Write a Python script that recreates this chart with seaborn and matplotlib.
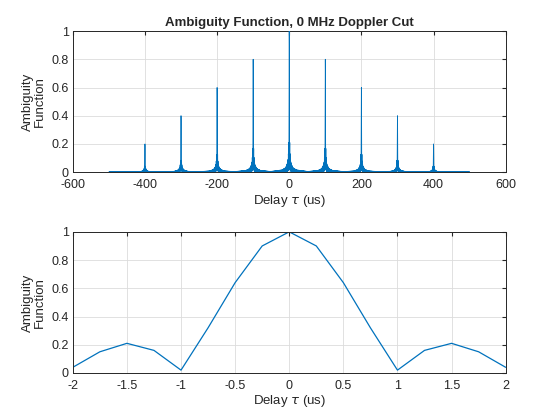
"""
Ambiguity function, zero-Doppler cut - pulse train
"""
import numpy as np
import pandas as pd
import matplotlib
matplotlib.use('Agg')
import matplotlib.pyplot as plt
import seaborn as sns

# peaks of the pulse train (top panel)
pulse_delay = [-400, -300, -200, -100, 0, 100, 200, 300, 400]
pulse_peak = [0.2, 0.4, 0.6, 0.8, 1.0, 0.8, 0.6, 0.4, 0.2]

# zoom around 0 us (bottom panel)
zoom_delay = [-2, -1.75, -1.5, -1.25, -1, -0.75, -0.5, -0.25, 0,
              0.25, 0.5, 0.75, 1, 1.25, 1.5, 1.75, 2]
zoom_amp = [0.04, 0.15, 0.21, 0.16, 0.02, 0.32, 0.64, 0.90, 1.0,
            0.90, 0.64, 0.32, 0.02, 0.16, 0.21, 0.15, 0.04]

skirt_offset = [2, 2.5, 3.5, 5, 10, 20, 50, 100]
skirt_env = [0.16, 0.13, 0.09, 0.064, 0.032, 0.016, 0.006, 0.003]

sns.set_style("white")
plt.rcParams['font.family'] = ['Liberation Sans', 'DejaVu Sans']
plt.rcParams['mathtext.fontset'] = 'dejavusans'
plt.rcParams['axes.unicode_minus'] = False

blue = '#0072BD'
step = 0.25

# build the sampled cut of the top panel from the read shapes
tau = np.arange(-500, 500 + step / 2, step)
amp = np.zeros_like(tau)
cycle = np.array(zoom_amp[12:16]) / max(zoom_amp[12:16])
for d, p in zip(pulse_delay, pulse_peak):
    off = tau - d
    a = np.abs(off)
    near = a <= 2
    shape = np.where(near, np.interp(off, zoom_delay, zoom_amp), 0.0)
    idx = np.round(a / step).astype(int) % 4
    far = np.interp(a, skirt_offset, skirt_env) * cycle[idx]
    shape = np.where(near, shape, far) * p
    amp = np.maximum(amp, shape)

top_df = pd.DataFrame({'delay': tau, 'amp': amp})
zoom_df = pd.DataFrame({'delay': zoom_delay, 'amp': zoom_amp})

fig = plt.figure(figsize=(5.6, 4.2), dpi=100)
ax1 = fig.add_axes([0.130, 0.590, 0.773, 0.336])
ax2 = fig.add_axes([0.130, 0.112, 0.773, 0.336])

sns.lineplot(data=top_df, x='delay', y='amp', ax=ax1, color=blue,
             linewidth=0.6, estimator=None, sort=False, zorder=3)
sns.lineplot(data=zoom_df, x='delay', y='amp', ax=ax2, color=blue,
             linewidth=0.9, estimator=None, sort=False)

ax1.set_xlim(-600, 600)
ax1.set_xticks(np.arange(-600, 601, 200))
ax2.set_xlim(-2, 2)
ax2.set_xticks([-2, -1.5, -1, -0.5, 0, 0.5, 1, 1.5, 2])
ax2.set_xticklabels(['-2', '-1.5', '-1', '-0.5', '0', '0.5', '1', '1.5', '2'])

for ax in (ax1, ax2):
    ax.set_ylim(0, 1)
    ax.set_yticks([0, 0.2, 0.4, 0.6, 0.8, 1])
    ax.set_yticklabels(['0', '0.2', '0.4', '0.6', '0.8', '1'])
    ax.grid(True, color='#dcdcdc', linewidth=0.6)
    ax.set_axisbelow(True)
    ax.tick_params(direction='in', length=3, labelsize=9, colors='#262626',
                   top=True, right=True)
    ax.tick_params(axis='x', pad=5)
    ax.tick_params(axis='y', pad=3)
    for s in ax.spines.values():
        s.set_color('#262626')
        s.set_linewidth(0.7)
    ax.set_xlabel(r'Delay $\tau$ (us)', fontsize=9.5, color='#262626', labelpad=1)
    ax.set_ylabel('Ambiguity\nFunction', fontsize=9.5, color='#262626',
                  labelpad=4, linespacing=1.0)

ax1.set_title('Ambiguity Function, 0 MHz Doppler Cut', fontsize=9.5,
              fontweight='bold', pad=4)

plt.savefig('out.png', dpi=100)
plt.close()
